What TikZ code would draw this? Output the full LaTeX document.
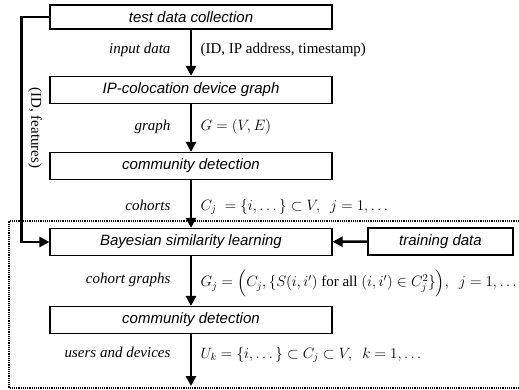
\RequirePackage{fix-cm}
\documentclass[tikz,border=0pt]{standalone}
\usepackage{amsmath, amssymb}
\usepackage{fontspec}
\setmainfont{Liberation Serif}
\newfontfamily\boxfont{Liberation Sans}
\usetikzlibrary{arrows.meta}

\begin{document}
\begin{tikzpicture}[x=1pt,y=-1pt,
  stage/.style={draw,line width=1.2pt,minimum width=282pt,minimum height=27pt,inner sep=0pt,font=\fontsize{15}{18}\selectfont\boxfont\itshape},
  flow/.style={line width=2.6pt,line join=miter,-{Triangle[length=10pt,width=10pt]}},
  lbl/.style={anchor=east,font=\fontsize{15}{18}\selectfont\itshape},
  dat/.style={anchor=west,font=\fontsize{15}{18}\selectfont}]
\useasboundingbox (0,0) rectangle (519,390);
\node[stage,minimum height=24pt] (collect) at (191,17) {test data collection};
\node[stage] (colgraph) at (191,90) {IP-colocation device graph};
\node[stage] (comm1) at (191,166) {community detection};
\node[stage] (bayes) at (191,242) {Bayesian similarity learning};
\node[stage] (comm2) at (191,320) {community detection};
\node[stage,minimum width=145pt] (train) at (440.5,241.5) {training data};
\coordinate (out) at (191,386);
\draw[flow] (collect) -- (colgraph);
\draw[flow] (colgraph) -- (comm1);
\draw[flow] (comm1) -- (bayes);
\draw[flow] (bayes) -- (comm2);
\draw[flow] (comm2) -- (out);
\draw[flow] (train) -- (bayes);
\draw[flow] (collect.west) -- ++(-28,0) |- (bayes.west);
\node[dat,anchor=center,rotate=-90] (feat) at (35,128) {(ID, features)};
% labels beside the arrows
\node[lbl] (l1) at (174,50) {input data};
\node[dat] (r1) at (197,50) {(ID, IP address, timestamp)};
\node[lbl] (l2) at (174,127) {graph};
\node[dat] (r2) at (197,127) {$G=(V,E)$};
\node[lbl] (l3) at (174,205) {cohorts};
\node[dat] (r3) at (197,207) {$C_j\;=\{i,\dots\}\subset V,\ \ j=1,\dots$};
\node[lbl] (l4) at (174,280) {cohort graphs};
\node[dat] (r4) at (197,283) {$G_j=\Bigl(C_j,\{S(i,i')\text{ for all }(i,i')\in C_j^2\}\Bigr),\ \ j=1,\dots$};
\node[lbl] (l5) at (174,352) {users and devices};
\node[dat] (r5) at (197,355) {$U_k=\{i,\dots\}\subset C_j\subset V,\ \ k=1,\dots$};
% dotted frame
\draw[line width=1.4pt,dash pattern=on 1.2pt off 1pt] (530,221) -- (9,221) -- (9,388) -- (530,388);
\end{tikzpicture}
\end{document}
